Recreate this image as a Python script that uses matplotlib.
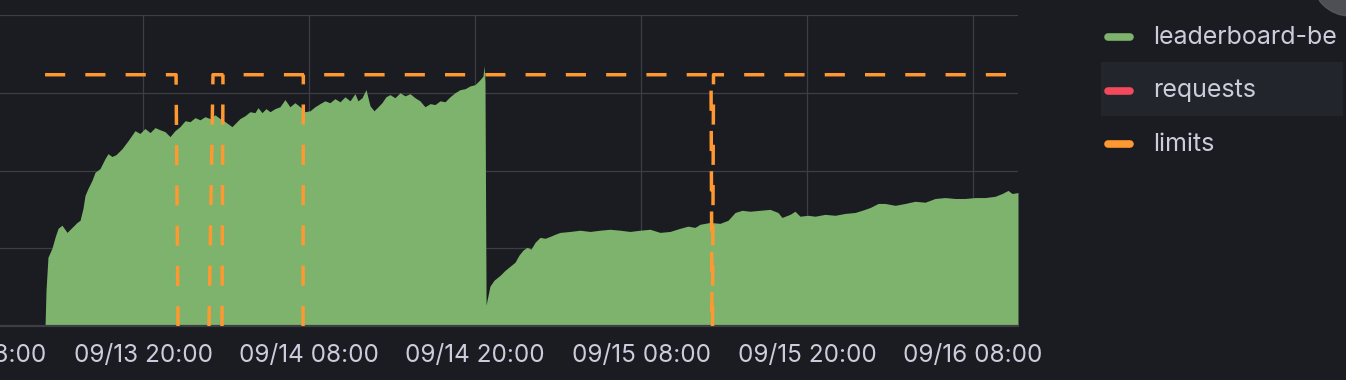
import matplotlib
matplotlib.use("Agg")
import matplotlib.pyplot as plt
import matplotlib.dates as mdates
from matplotlib.lines import Line2D
from matplotlib.patches import Rectangle, Ellipse
import numpy as np
import pandas as pd

# цвета в духе тёмной темы grafana
BG = "#1b1c21"
GRID = "#3d3e44"
TEXT = "#ccccdc"
GREEN = "#7db36d"
RED = "#f2495c"
ORANGE = "#ff9830"

base = pd.Timestamp("2023-09-13 00:00")

# память leaderboard-be: часы от 09/13 00:00 и значения (MiB)
mem_hours = [12.92, 12.99, 13.13, 13.42, 13.64, 13.86, 14.14, 14.51, 14.87, 15.23,
             15.45, 15.66, 15.81, 16.02, 16.31, 16.53, 16.89, 17.25, 17.47, 17.76,
             18.05, 18.48, 18.92, 19.42, 19.78, 20.14, 20.51, 20.87, 21.23, 21.59,
             21.95, 22.31, 22.67, 23.04, 23.40, 23.76, 24.12, 24.48, 24.84, 25.20,
             25.57, 25.93, 26.43, 26.72, 27.01, 27.37, 27.73, 28.09, 28.31, 28.60,
             28.89, 29.18, 29.54, 29.90, 30.26, 30.62, 30.98, 31.35, 31.71, 32.07,
             32.43, 32.79, 33.15, 33.51, 33.87, 34.24, 34.60, 34.96, 35.32, 35.54,
             35.83, 36.12, 36.41, 36.70, 36.99, 37.27, 37.56, 37.85, 38.21, 38.58,
             38.94, 39.30, 39.66, 40.02, 40.38, 40.75, 41.11, 41.47, 41.83, 42.19,
             42.55, 42.92, 43.28, 43.64, 44.00, 44.36, 44.58, 44.65, 44.72, 44.80,
             44.87, 45.08, 45.37, 45.81, 46.17, 46.53, 46.89, 47.18, 47.47, 47.76,
             48.05, 48.34, 48.70, 49.06, 49.42, 49.79, 50.15, 50.87, 51.59, 52.31,
             53.04, 53.76, 54.48, 55.20, 55.93, 56.65, 57.37, 58.09, 58.81, 59.39,
             59.90, 60.26, 60.99, 61.71, 62.29, 62.80, 63.31, 63.88, 64.60, 65.33,
             65.90, 66.19, 66.77, 67.13, 67.49, 68.07, 68.58, 69.30, 70.03, 70.75,
             71.47, 71.98, 72.56, 73.14, 73.64, 74.37, 75.09, 75.81, 76.53, 77.26,
             77.98, 78.70, 79.42, 80.15, 80.87, 81.59, 82.10, 82.53, 82.82, 83.25]
mem_values = [0, 115, 221, 250, 285, 314, 324, 301, 317, 333,
              340, 378, 420, 442, 468, 494, 506, 538, 554, 545,
              551, 570, 596, 628, 619, 635, 622, 638, 631, 625,
              609, 628, 641, 660, 657, 670, 663, 673, 667, 679,
              667, 657, 641, 654, 667, 676, 689, 686, 702, 686,
              699, 689, 699, 705, 728, 705, 718, 705, 689, 692,
              705, 715, 724, 718, 731, 721, 737, 724, 747, 724,
              734, 760, 708, 692, 705, 718, 737, 744, 734, 750,
              740, 747, 734, 724, 705, 715, 712, 724, 721, 737,
              750, 760, 763, 772, 776, 792, 804, 837, 788, 67,
              83, 128, 147, 163, 179, 192, 205, 228, 244, 253,
              247, 269, 285, 282, 288, 295, 301, 304, 308, 304,
              308, 311, 308, 304, 308, 311, 301, 304, 314, 321,
              317, 327, 333, 330, 340, 365, 372, 369, 372, 375,
              365, 349, 359, 369, 353, 356, 353, 359, 356, 362,
              365, 372, 381, 394, 394, 388, 394, 401, 398, 410,
              413, 410, 410, 413, 413, 417, 426, 436, 426, 429]

# limits: несколько подов, разрывы через nan
limit_hours = [12.92, 22.39, 22.53, 22.53,
               24.77, 25.06, 61.06, 61.13, 61.13,
               25.71, 25.78, 25.78,
               31.57, 31.59, 31.59,
               61.17, 61.24, 83.25]
limit_values = [808, 808, 0, np.nan,
                0, 808, 808, 0, np.nan,
                0, 808, np.nan,
                0, 808, np.nan,
                0, 808, 808]

legend_names = ["leaderboard-be", "requests", "limits"]
legend_colors = [GREEN, RED, ORANGE]

y_ticks = [0, 250, 500, 750, 1000]

plt.rcParams["font.family"] = ["Inter", "DejaVu Sans"]

W, H = 1346, 380
fig = plt.figure(figsize=(W / 100, H / 100), dpi=100, facecolor=BG)

# оси чуть уходят за левый край, как на обрезанном скриншоте
left_px, right_px, top_px, bottom_px = -80, 1018, 15, 326
ax = fig.add_axes([left_px / W, 1 - bottom_px / H,
                   (right_px - left_px) / W, (bottom_px - top_px) / H])
ax.set_facecolor(BG)

mem_t = base + pd.to_timedelta(mem_hours, unit="h")
lim_t = base + pd.to_timedelta(limit_hours, unit="h")

ax.fill_between(mem_t, mem_values, 0, color=GREEN, lw=0, zorder=2)
ax.plot(lim_t, limit_values, color=ORANGE, lw=2.5, linestyle=(0, (5.8, 5.8)),
        solid_joinstyle="miter", zorder=3)

ax.set_xlim(base + pd.Timedelta(hours=3.88), base + pd.Timedelta(hours=83.25))
ax.set_ylim(0, 1000)
ax.set_yticks(y_ticks)
ax.yaxis.set_tick_params(length=0, labelleft=False)

ax.xaxis.set_major_locator(mdates.HourLocator(byhour=[8, 20]))
ax.xaxis.set_major_formatter(mdates.DateFormatter("%m/%d %H:%M"))
ax.tick_params(axis="x", length=0, pad=13, labelsize=17.5, colors=TEXT)

ax.grid(True, color=GRID, lw=0.9, zorder=0)
ax.set_axisbelow(True)
for s in ["top", "right", "left"]:
    ax.spines[s].set_visible(False)
ax.spines["bottom"].set_color(GRID)
ax.spines["bottom"].set_linewidth(1.6)

# легенда справа
fig.patches.append(Rectangle((1101 / W, 1 - 115 / H), 241 / W, 53 / H,
                             transform=fig.transFigure, color="#22252b", zorder=0))
for i, (name, col) in enumerate(zip(legend_names, legend_colors)):
    y = 1 - (37 + 53.5 * i) / H
    fig.lines.append(Line2D([1108 / W, 1130 / W], [y, y], transform=fig.transFigure,
                            color=col, lw=5.5, solid_capstyle="round"))
    fig.text(1153 / W, y, name, color=TEXT, fontsize=18, va="center", ha="left")

# серое пятно в правом верхнем углу
fig.patches.append(Ellipse((1350 / W, 1 + 22 / H), 76 / W, 76 / H,
                           transform=fig.transFigure, color="#5c5d62", alpha=0.8))

fig.savefig("out.png", dpi=100, facecolor=BG)
